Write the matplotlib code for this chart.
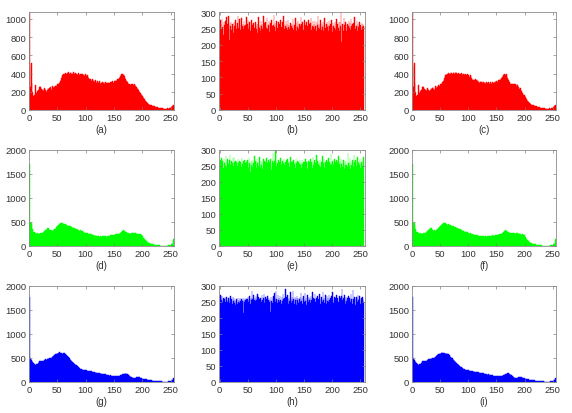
import numpy as np
import matplotlib
matplotlib.use("Agg")
import matplotlib.pyplot as plt

plt.rcParams['font.family'] = ['Liberation Sans', 'DejaVu Sans']

# ── Histogram counts per grey level (0..255) ────────────────────────────────
red_plain = [
    1075, 260, 250, 480, 520, 300, 200, 150, 140, 160, 170, 270, 180, 190, 200, 210,
    220, 230, 250, 260, 250, 240, 230, 220, 230, 210, 220, 240, 230, 220, 200, 210,
    220, 240, 230, 220, 240, 250, 230, 220, 240, 260, 250, 240, 260, 250, 260, 270,
    260, 250, 280, 270, 290, 300, 310, 320, 330, 350, 370, 380, 390, 380, 400, 390,
    410, 400, 390, 410, 400, 420, 410, 400, 390, 410, 420, 400, 390, 410, 420, 410,
    400, 390, 410, 400, 390, 380, 400, 410, 390, 380, 400, 390, 400, 380, 390, 400,
    380, 370, 390, 400, 380, 370, 360, 380, 370, 350, 340, 330, 340, 330, 320, 330,
    340, 320, 330, 310, 320, 330, 310, 300, 320, 310, 300, 310, 320, 300, 290, 310,
    300, 310, 290, 300, 310, 290, 300, 310, 300, 290, 300, 310, 300, 290, 300, 310,
    300, 310, 300, 320, 310, 300, 320, 310, 320, 330, 320, 330, 340, 330, 340, 350,
    360, 370, 380, 390, 400, 390, 380, 400, 370, 350, 340, 330, 320, 310, 300, 290,
    280, 290, 280, 270, 280, 270, 280, 290, 270, 260, 280, 270, 260, 250, 240, 230,
    240, 220, 210, 200, 190, 180, 170, 160, 150, 140, 130, 120, 110, 100, 100, 90,
    80, 80, 70, 70, 60, 60, 55, 50, 50, 45, 45, 40, 40, 40, 35, 35,
    30, 30, 30, 25, 25, 25, 20, 20, 20, 20, 18, 18, 15, 15, 18, 15,
    15, 15, 15, 15, 18, 15, 15, 20, 20, 25, 25, 30, 35, 40, 50, 60,
]

green_plain = [
    1700, 500, 480, 460, 470, 440, 350, 300, 280, 290, 270, 280, 270, 260, 270, 280,
    260, 270, 260, 250, 270, 260, 270, 280, 270, 290, 300, 310, 320, 330, 340, 360,
    370, 360, 370, 350, 340, 330, 320, 330, 320, 310, 320, 330, 340, 350, 360, 380,
    400, 410, 420, 430, 440, 450, 460, 470, 480, 470, 480, 470, 460, 450, 460, 440,
    450, 430, 440, 420, 430, 410, 420, 410, 400, 410, 390, 400, 380, 390, 380, 370,
    380, 370, 360, 350, 360, 340, 350, 330, 340, 320, 330, 310, 320, 300, 310, 290,
    300, 280, 290, 270, 280, 270, 260, 270, 250, 260, 240, 250, 240, 230, 240, 230,
    220, 230, 220, 210, 220, 210, 200, 210, 200, 200, 210, 200, 190, 200, 210, 200,
    190, 200, 210, 200, 190, 200, 210, 200, 190, 200, 210, 200, 210, 200, 210, 220,
    210, 220, 210, 220, 230, 220, 230, 230, 240, 230, 240, 250, 240, 250, 260, 250,
    270, 280, 290, 300, 310, 320, 330, 320, 310, 300, 290, 300, 290, 280, 270, 280,
    270, 260, 270, 260, 270, 260, 270, 260, 270, 280, 270, 280, 270, 260, 270, 260,
    250, 240, 230, 260, 250, 240, 230, 220, 200, 180, 160, 150, 130, 120, 110, 100,
    90, 80, 70, 65, 60, 55, 50, 45, 40, 38, 35, 32, 30, 25, 22, 20,
    18, 18, 15, 15, 12, 12, 12, 10, 10, 10, 10, 10, 10, 10, 10, 10,
    10, 10, 10, 10, 10, 12, 12, 12, 15, 15, 20, 25, 30, 40, 60, 140,
]

blue_plain = [
    1780, 520, 480, 470, 450, 440, 420, 400, 380, 370, 360, 350, 340, 370, 360, 380,
    400, 420, 430, 440, 430, 420, 430, 440, 420, 430, 440, 450, 460, 470, 460, 470,
    480, 490, 480, 490, 500, 510, 500, 510, 520, 530, 540, 550, 560, 570, 580, 590,
    580, 600, 590, 610, 600, 620, 600, 610, 590, 600, 610, 590, 600, 590, 600, 580,
    590, 570, 560, 550, 530, 520, 500, 490, 470, 460, 440, 430, 420, 410, 400, 390,
    380, 370, 360, 350, 340, 330, 320, 310, 300, 290, 280, 275, 270, 265, 260, 255,
    250, 260, 250, 245, 240, 240, 235, 230, 235, 225, 230, 220, 225, 215, 220, 210,
    215, 205, 210, 200, 205, 195, 200, 190, 195, 190, 185, 190, 180, 185, 175, 180,
    170, 175, 165, 170, 160, 165, 155, 160, 150, 155, 145, 150, 140, 145, 135, 140,
    130, 135, 125, 130, 120, 125, 120, 115, 120, 115, 120, 115, 120, 125, 130, 125,
    135, 140, 145, 150, 155, 160, 165, 170, 175, 180, 175, 180, 170, 165, 160, 150,
    140, 130, 120, 110, 100, 95, 90, 85, 90, 85, 80, 85, 90, 95, 100, 105,
    100, 95, 100, 95, 90, 85, 80, 75, 70, 70, 65, 65, 60, 60, 55, 55,
    50, 50, 45, 45, 40, 40, 38, 35, 35, 32, 30, 30, 28, 25, 25, 22,
    22, 20, 20, 18, 18, 15, 15, 15, 12, 12, 12, 10, 10, 10, 10, 10,
    10, 10, 10, 10, 10, 10, 12, 12, 15, 15, 20, 25, 30, 40, 55, 80,
]

red_cipher = [
    250, 275, 262, 248, 280, 255, 231, 268, 259, 244, 271, 253, 286, 240, 262, 287,
    249, 214, 266, 258, 270, 245, 262, 251, 237, 268, 256, 243, 274, 259, 248, 266,
    289, 252, 241, 278, 260, 246, 283, 221, 257, 264, 249, 272, 256, 238, 261, 284,
    253, 262, 274, 247, 258, 269, 241, 255, 275, 232, 261, 249, 266, 252, 243, 270,
    258, 247, 264, 236, 262, 284, 251, 259, 242, 271, 256, 263, 248, 289, 257, 265,
    244, 270, 258, 252, 283, 247, 260, 271, 239, 256, 265, 250, 277, 258, 245, 261,
    291, 254, 266, 243, 259, 272, 250, 238, 268, 257, 262, 248, 275, 253, 241, 269,
    256, 289, 263, 247, 258, 271, 252, 264, 244, 276, 255, 261, 249, 267, 240, 258,
    264, 251, 279, 245, 260, 253, 282, 258, 243, 266, 255, 272, 249, 262, 237, 257,
    285, 262, 251, 268, 246, 259, 274, 253, 261, 240, 269, 257, 248, 276, 254, 263,
    250, 266, 281, 244, 258, 271, 255, 262, 247, 273, 256, 242, 268, 259, 287, 251,
    264, 249, 257, 275, 245, 262, 254, 268, 241, 259, 281, 252, 246, 263, 270, 255,
    260, 243, 271, 256, 263, 249, 277, 254, 238, 266, 258, 251, 269, 244, 262, 278,
    257, 262, 250, 268, 243, 270, 256, 300, 207, 252, 264, 241, 282, 259, 247, 269,
    255, 242, 263, 228, 258, 272, 250, 266, 244, 280, 257, 262, 249, 267, 253, 285,
    261, 247, 256, 271, 243, 262, 255, 236, 268, 251, 259, 246, 266, 253, 262, 257,
]

green_cipher = [
    262, 270, 248, 276, 255, 267, 243, 272, 258, 264, 250, 280, 247, 263, 271, 257,
    245, 268, 284, 253, 222, 266, 258, 274, 249, 279, 261, 244, 267, 255, 262, 250,
    273, 259, 241, 266, 254, 262, 248, 275, 257, 244, 265, 252, 269, 246, 258, 263,
    251, 268, 256, 244, 276, 259, 232, 265, 253, 270, 247, 262, 258, 281, 249, 266,
    255, 243, 272, 258, 264, 249, 278, 256, 245, 267, 253, 261, 240, 273, 257, 266,
    248, 262, 255, 274, 244, 259, 268, 252, 263, 247, 271, 256, 239, 265, 292, 258,
    254, 267, 249, 300, 283, 251, 258, 244, 270, 256, 263, 248, 275, 254, 261, 267,
    243, 258, 271, 254, 262, 236, 268, 255, 272, 249, 260, 266, 246, 278, 253, 261,
    257, 264, 248, 270, 255, 262, 243, 273, 258, 251, 266, 247, 263, 256, 269, 252,
    260, 245, 268, 257, 262, 253, 262, 249, 271, 255, 264, 242, 258, 267, 251, 263,
    249, 272, 256, 263, 245, 277, 254, 260, 268, 243, 259, 285, 252, 266, 248, 257,
    264, 251, 270, 246, 262, 255, 281, 249, 258, 272, 244, 263, 256, 269, 250, 261,
    258, 276, 247, 264, 253, 287, 255, 241, 267, 259, 252, 273, 246, 262, 256, 270,
    251, 263, 282, 248, 257, 266, 244, 271, 255, 260, 247, 268, 258, 240, 265, 253,
    267, 254, 246, 291, 259, 262, 249, 275, 240, 264, 253, 270, 257, 246, 284, 261,
    255, 268, 250, 263, 279, 247, 258, 266, 252, 273, 245, 261, 256, 249, 270, 278,
]

blue_cipher = [
    231, 272, 268, 255, 270, 249, 262, 244, 258, 265, 251, 243, 267, 256, 249, 262,
    254, 247, 261, 268, 250, 259, 244, 266, 252, 262, 248, 257, 240, 253, 260, 245,
    262, 250, 256, 248, 264, 253, 259, 242, 254, 261, 216, 257, 249, 263, 255, 260,
    246, 258, 266, 251, 257, 270, 244, 262, 255, 283, 260, 249, 272, 257, 264, 252,
    268, 255, 262, 274, 250, 266, 258, 245, 263, 256, 249, 271, 257, 262, 275, 247,
    258, 266, 251, 260, 244, 268, 255, 262, 249, 257, 220, 265, 253, 246, 261, 270,
    255, 279, 262, 250, 284, 258, 246, 271, 256, 263, 249, 268, 257, 244, 265, 253,
    274, 260, 248, 262, 292, 255, 266, 249, 271, 258, 243, 263, 254, 281, 260, 247,
    265, 252, 283, 258, 244, 267, 256, 262, 241, 270, 255, 263, 248, 259, 266, 251,
    277, 253, 262, 245, 268, 257, 250, 279, 254, 263, 240, 271, 258, 249, 266, 255,
    262, 248, 270, 256, 281, 252, 264, 243, 259, 274, 251, 262, 246, 268, 255, 260,
    253, 276, 258, 245, 266, 257, 250, 282, 255, 262, 247, 271, 259, 243, 268, 254,
    261, 249, 273, 256, 264, 244, 268, 252, 280, 257, 246, 265, 253, 262, 248, 271,
    256, 263, 251, 247, 270, 258, 264, 245, 268, 292, 255, 262, 249, 273, 257, 243,
    266, 252, 261, 255, 270, 247, 263, 256, 249, 275, 258, 244, 289, 260, 253, 267,
    259, 240, 265, 262, 251, 273, 256, 248, 269, 257, 244, 263, 252, 266, 258, 250,
]

levels = np.arange(256)
panel_labels = ["(a)", "(b)", "(c)", "(d)", "(e)", "(f)", "(g)", "(h)", "(i)"]

# rows: (plain, cipher, colour, y-max, y-ticks); decrypted panel reuses plain
rows = [
    (red_plain,   red_cipher,   (1, 0, 0), 1075, np.arange(0, 1001, 200)),
    (green_plain, green_cipher, (0, 1, 0), 2000, np.arange(0, 2001, 500)),
    (blue_plain,  blue_cipher,  (0, 0, 1), 2000, np.arange(0, 2001, 500)),
]

W, H = 572, 414
col_px = [(29, 174), (219, 365), (412, 556)]
row_px = [(13, 111), (151, 247), (287, 383)]
TXT = '#333333'

fig = plt.figure(figsize=(W / 100, H / 100), dpi=100)

for r, (plain, cipher, col, ymax, yticks) in enumerate(rows):
    data = [plain, cipher, plain]
    for c in range(3):
        x0, x1 = col_px[c]
        y0, y1 = row_px[r]
        ax = fig.add_axes([x0 / W, 1 - y1 / H, (x1 - x0) / W, (y1 - y0) / H])
        ax.bar(levels, data[c], width=1.0, align='edge', color=col,
               edgecolor=col, linewidth=0.3)
        if c == 1:
            ax.set_xlim(-1, 258)
            ax.set_ylim(0, 300)
            ax.set_yticks(np.arange(0, 301, 50))
        else:
            ax.set_xlim(0, 256)
            ax.set_ylim(0, ymax)
            ax.set_yticks(yticks)
        ax.set_xticks(np.arange(0, 251, 50))
        ax.tick_params(direction='in', length=2, width=0.5, labelsize=6.8,
                       colors='#808080', labelcolor=TXT, top=True, right=True, pad=2)
        for s in ax.spines.values():
            s.set_linewidth(0.6)
            s.set_color('#8c8c8c')
        ax.set_xlabel(panel_labels[r * 3 + c], fontsize=7, color=TXT, labelpad=1.5)

plt.savefig("out.png", dpi=100)
